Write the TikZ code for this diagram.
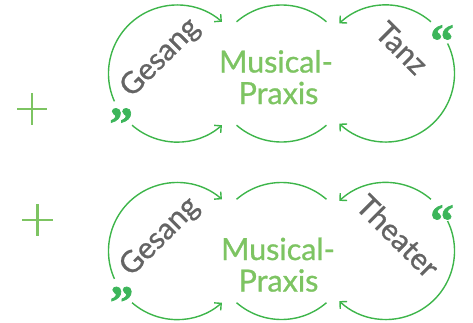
\documentclass[tikz,border=0pt]{standalone}
\usepackage{fontspec}
\setmainfont{Lato}
\newfontfamily\semilato[FakeBold=0.9]{Lato}
\newfontfamily\quoteserif[FakeBold=1.5]{Liberation Serif}
\usetikzlibrary{arrows.meta,calc}
\definecolor{arcgreen}{HTML}{3DB54A}
\definecolor{lightgreen}{HTML}{7DC462}
\definecolor{quotegreen}{HTML}{3CB55A}
\definecolor{txtgrey}{HTML}{646464}
\begin{document}
\begin{tikzpicture}[x=1pt,y=1pt,
  ring/.style={draw=arcgreen,line width=1.4pt},
  arw/.style={ring,-{Straight Barb[length=5pt,width=10pt,line width=1.4pt]}},
  mtext/.style={text=lightgreen,font=\semilato\fontsize{30.5}{32}\selectfont,inner sep=0pt,anchor=base},
  gtext/.style={text=txtgrey,font=\semilato\fontsize{30}{31}\selectfont,inner sep=0pt},
  qmark/.style={text=quotegreen,font=\quoteserif\bfseries\fontsize{47}{47}\selectfont,inner sep=0pt},
  plusline/.style={draw=lightgreen,line width=2.4pt}]
\useasboundingbox (0,0) rectangle (473,322);
\def\R{68.5}
% ---------- top row ----------
\coordinate (L1) at (177,248.5);
\coordinate (M1) at (281.5,248.5);
\coordinate (Q1) at (386,248.5);
\draw[arw] ($(L1)+(204:\R)$) arc[start angle=204,end angle=49,radius=\R];
\draw[arw] ($(L1)+(229:\R)$) arc[start angle=229,end angle=311,radius=\R];
\draw[ring] ($(M1)+(131:\R)$) arc[start angle=131,end angle=49,radius=\R];
\draw[ring] ($(M1)+(229:\R)$) arc[start angle=229,end angle=311,radius=\R];
\draw[arw] ($(Q1)+(49:\R)$) arc[start angle=49,end angle=133,radius=\R];
\draw[arw] ($(Q1)+(26:\R)$) arc[start angle=26,end angle=-133,radius=\R];
\node[mtext] (mus1) at (276,249.5) {Musical-};
\node[mtext] (pra1) at (278.5,218) {Praxis};
\node[gtext,rotate=45] (ges1) at (160.5,264) {Gesang};
\node[gtext,rotate=-45] (tan1) at (402,274) {Tanz};
\node[qmark] (q1a) at (121.5,206.5) {„};
\node[qmark] (q1b) at (442,281) {“};
\coordinate (p1l) at (17,213);
\coordinate (p1r) at (47,213);
\coordinate (p1t) at (32,229);
\coordinate (p1b) at (32,197);
\draw[plusline] (p1l) -- (p1r);
\draw[plusline] (p1t) -- (p1b);
% ---------- bottom row ----------
\coordinate (L2) at (177,71);
\coordinate (M2) at (281.5,71);
\coordinate (Q2) at (386,71);
\draw[arw] ($(L2)+(204:\R)$) arc[start angle=204,end angle=49,radius=\R];
\draw[arw] ($(L2)+(229:\R)$) arc[start angle=229,end angle=311,radius=\R];
\draw[ring] ($(M2)+(131:\R)$) arc[start angle=131,end angle=49,radius=\R];
\draw[ring] ($(M2)+(229:\R)$) arc[start angle=229,end angle=311,radius=\R];
\draw[arw] ($(Q2)+(49:\R)$) arc[start angle=49,end angle=133,radius=\R];
\draw[arw] ($(Q2)+(26:\R)$) arc[start angle=26,end angle=-133,radius=\R];
\node[mtext] (mus2) at (278,62) {Musical-};
\node[mtext] (pra2) at (278.5,30.5) {Praxis};
\node[gtext,rotate=45] (ges2) at (160,85) {Gesang};
\node[gtext,rotate=-45] (the2) at (398,86) {Theater};
\node[qmark] (q2a) at (122,28) {„};
\node[qmark] (q2b) at (442,101) {“};
\coordinate (p2l) at (22,102);
\coordinate (p2r) at (53,102);
\coordinate (p2t) at (37.5,118);
\coordinate (p2b) at (37.5,86);
\draw[plusline] (p2l) -- (p2r);
\draw[plusline] (p2t) -- (p2b);
\end{tikzpicture}
\end{document}
